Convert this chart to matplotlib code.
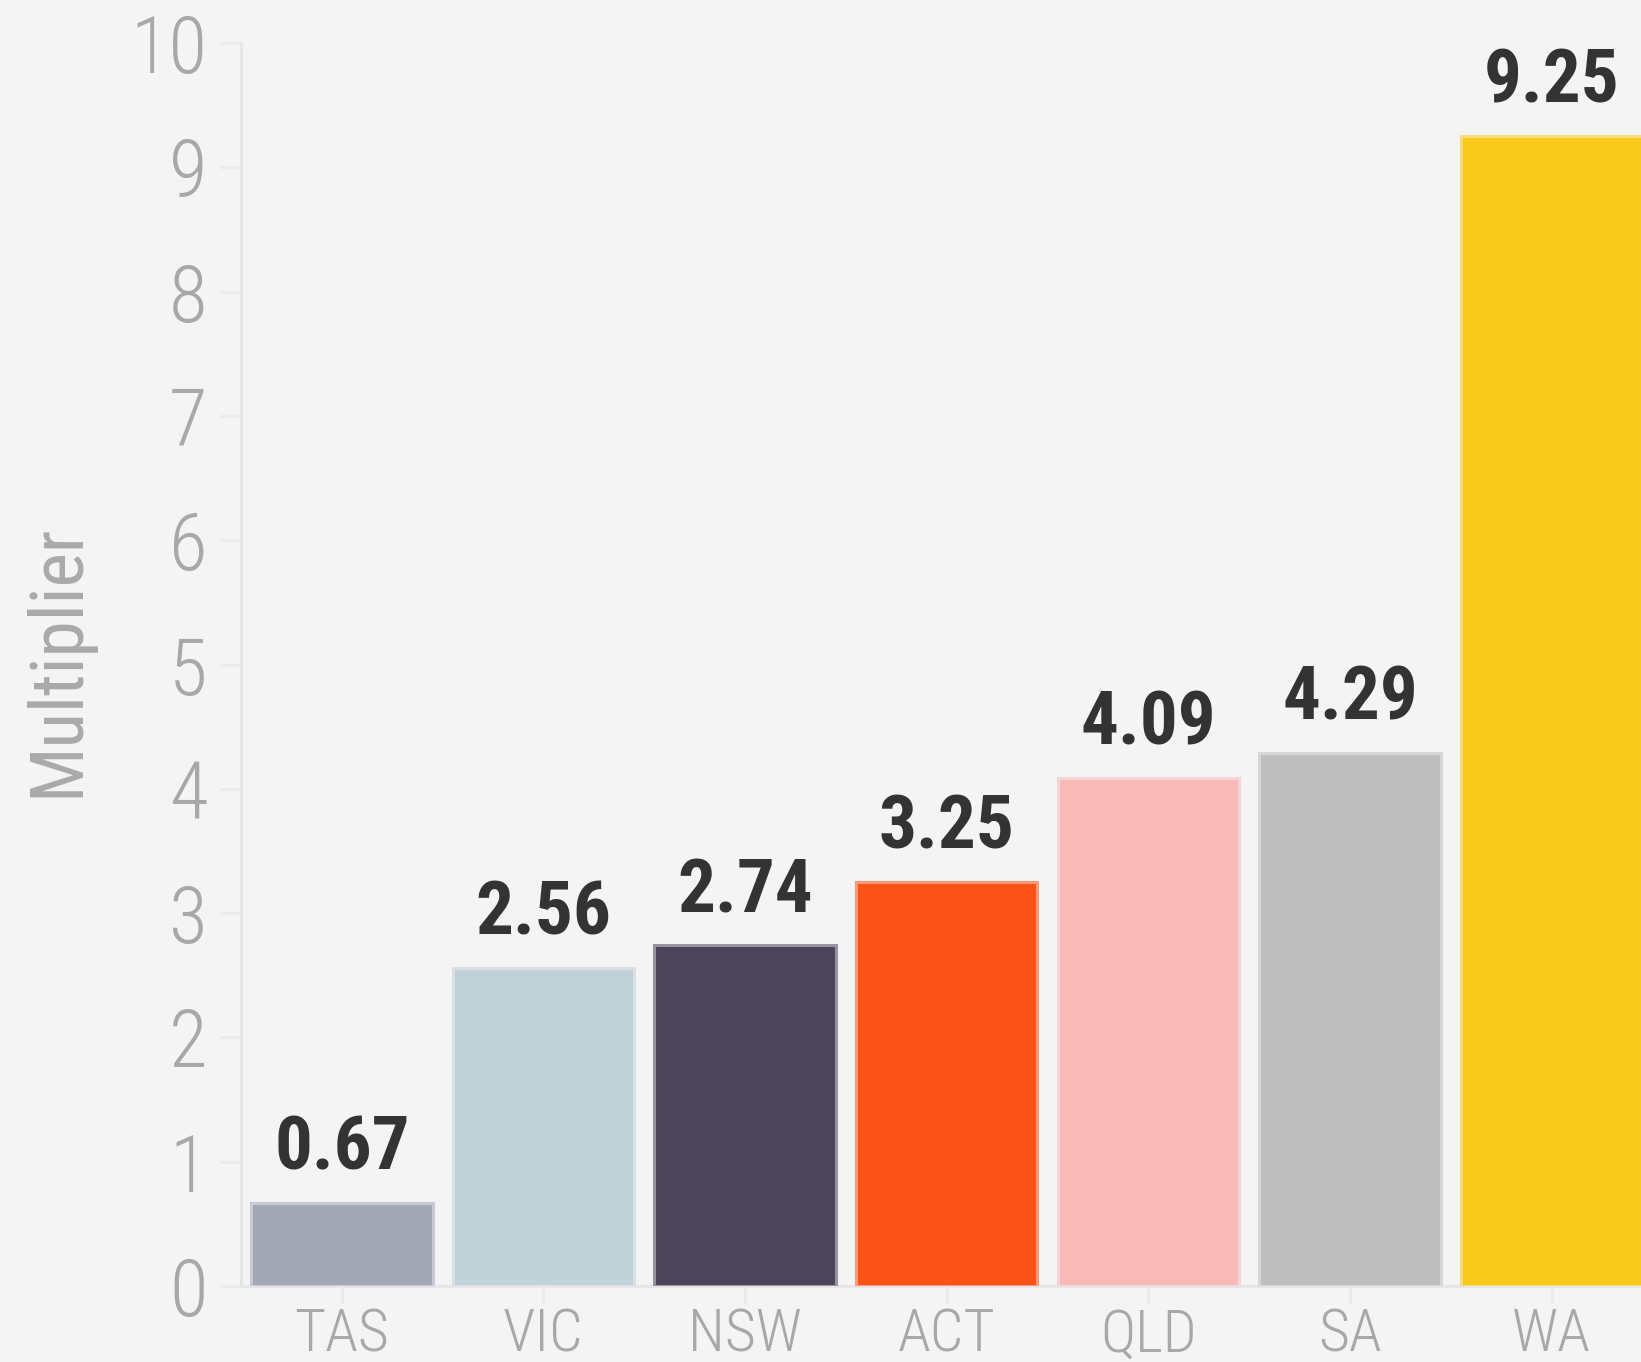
import matplotlib
matplotlib.use("Agg")
import matplotlib.pyplot as plt
from matplotlib import colors as mcolors
from matplotlib import font_manager as fm
import numpy as np

categories = ["TAS", "VIC", "NSW", "ACT", "QLD", "SA", "WA"]
values = [0.67, 2.56, 2.74, 3.25, 4.09, 4.29, 9.25]
bar_colors = ["#a3a8b6", "#bfd2d7", "#4c4458", "#fc5117", "#f8b9b9", "#bebebe", "#f8c81b"]
y_ticks = [0, 1, 2, 3, 4, 5, 6, 7, 8, 9, 10]
y_label = "Multiplier"

BG = "#f4f4f4"
available = {f.name for f in fm.fontManager.ttflist}
candidates = ["Roboto Condensed", "Liberation Sans Narrow", "Arial Narrow",
              "Barlow Condensed", "Open Sans Condensed", "Roboto"]
main_font = next((c for c in candidates if c in available), "DejaVu Sans")
FONT = [main_font, "DejaVu Sans"]
plt.rcParams["font.family"] = FONT

fig = plt.figure(figsize=(16.41, 13.62), dpi=100, facecolor=BG)
ax = fig.add_axes([241 / 1641, 76 / 1362, 1 - 241 / 1641, (1286 - 43) / 1362])
ax.set_facecolor(BG)

def blend(c, a=0.5):
    r = np.array(mcolors.to_rgb(c))
    b = np.array(mcolors.to_rgb(BG))
    return tuple(r * a + b * (1 - a))

x = np.arange(len(categories))
ax.bar(x, values, width=0.9, color=bar_colors,
       edgecolor=[blend(c, 0.55) for c in bar_colors], linewidth=2.2, zorder=2)

for xi, v in zip(x, values):
    ax.annotate(f"{v:.2f}", (xi, v), xytext=(0, 24), textcoords="offset points",
                ha="center", va="baseline", fontsize=54, fontweight="bold",
                color="#333333", family=FONT)

ax.set_xlim(-0.5, 6.443)
ax.set_ylim(0, 10)
ax.set_yticks(y_ticks)
ax.set_yticklabels([str(t) for t in y_ticks])
ax.set_xticks(x)
ax.set_xticklabels(categories)

for s in ["top", "right"]:
    ax.spines[s].set_visible(False)
ax.spines["left"].set_color("#e6e6e6")
ax.spines["left"].set_linewidth(2.2)
ax.spines["bottom"].set_color("#e6e6e6")
ax.spines["bottom"].set_linewidth(2.2)
ax.spines["bottom"].set_zorder(1)

ax.tick_params(axis="y", length=15, width=2.2, color="#ebebeb", pad=9,
               labelsize=57, labelcolor="#a8a8a8")
ax.tick_params(axis="x", length=12, width=2.2, color="#ebebeb", pad=3,
               labelsize=43, labelcolor="#a8a8a8")
for lbl in ax.get_yticklabels() + ax.get_xticklabels():
    lbl.set_fontweight("light")

ax.set_ylabel(y_label, fontsize=53, color="#aaaaaa", fontweight="normal")
ax.yaxis.set_label_coords((22 - 241) / (1641 - 241), (1286 - 660) / (1286 - 43))
ax.yaxis.label.set_horizontalalignment("center")
ax.yaxis.label.set_verticalalignment("top")

fig.savefig("out.png", dpi=100, facecolor=BG)
